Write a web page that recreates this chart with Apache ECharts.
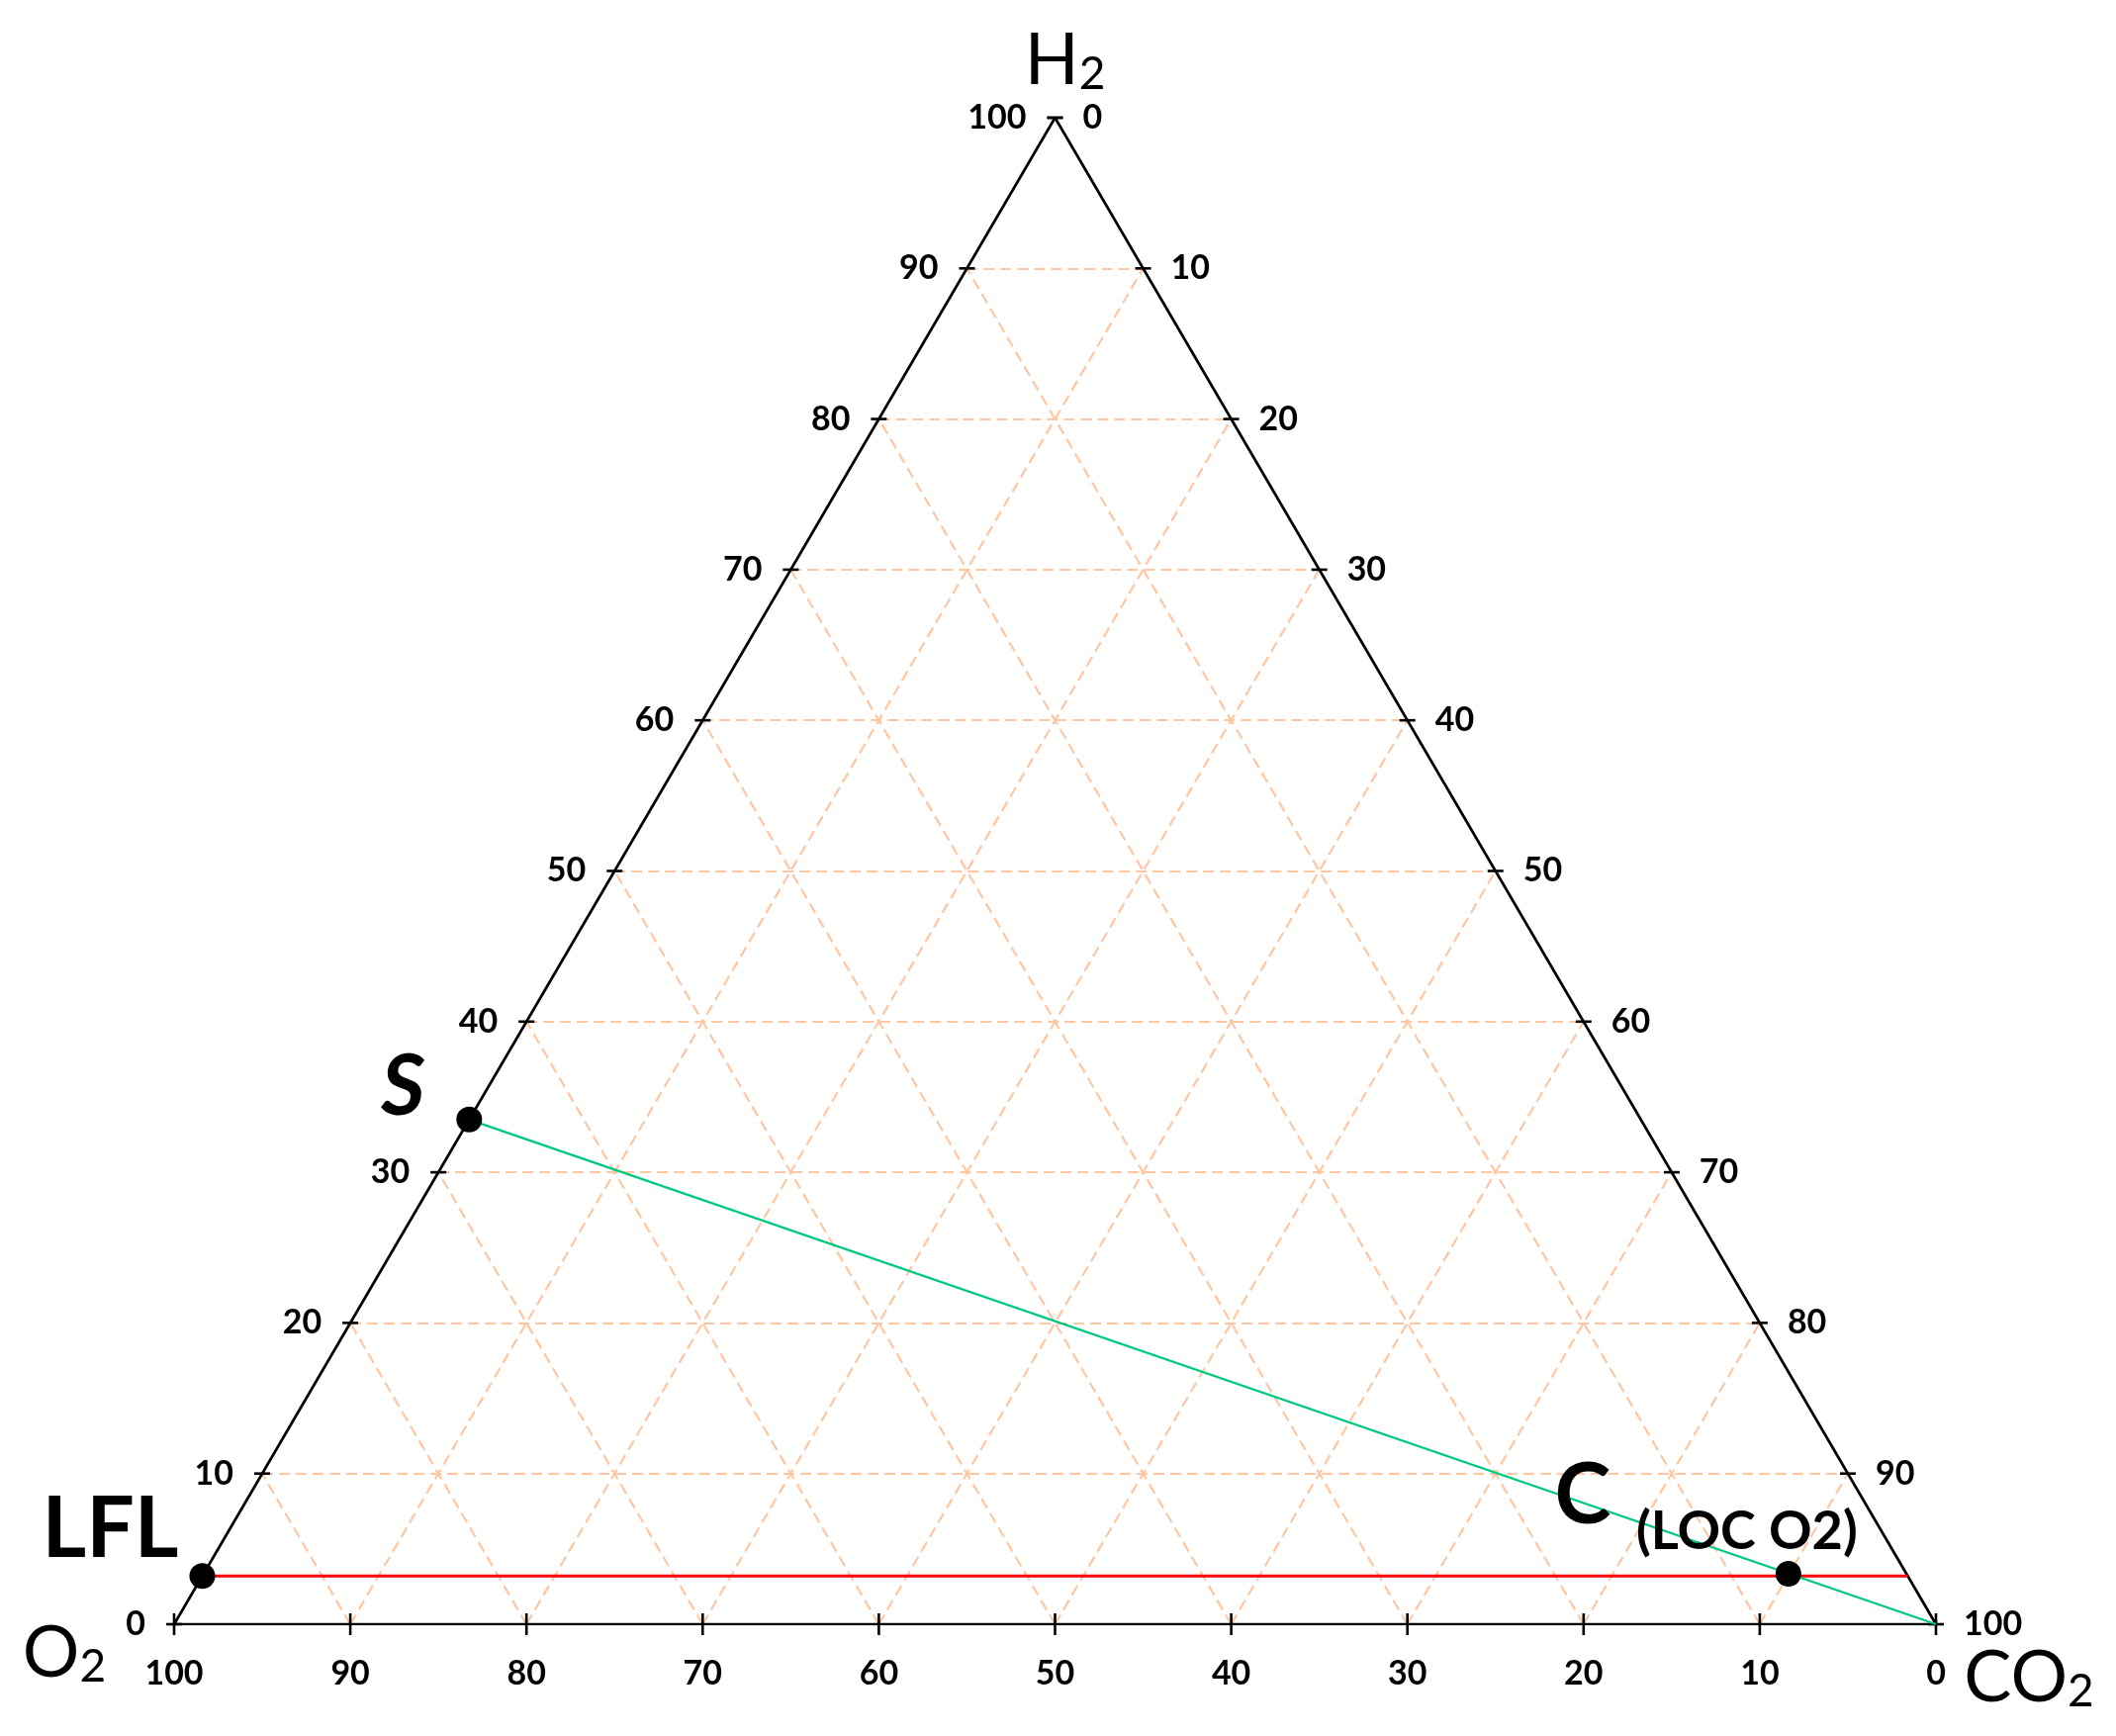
<!DOCTYPE html>
<html>
<head>
<meta charset="utf-8">
<script src="https://cdn.jsdelivr.net/npm/echarts@6/dist/echarts.min.js"></script>
<style>
  html, body { margin: 0; padding: 0; background: #fff; }
  #ternary { width: 2139px; height: 1755px; }
</style>
</head>
<body>
<div id="ternary"></div>
<script>
// tick values on each side (%)
var tickValues = [0, 10, 20, 30, 40, 50, 60, 70, 80, 90, 100];
var gridValues = [10, 20, 30, 40, 50, 60, 70, 80, 90];

// marked compositions, [O2, H2, CO2] in %
var pointNames = ['LFL', 'S', 'C'];
var pointO2 = [96.8, 66.5, 6.7];
var pointH2 = [3.2, 33.5, 3.35];
var pointCO2 = [0, 0, 89.95];

// red LFL line and green line S -> pure CO2
var lflLine = [[96.8, 3.2, 0], [0, 3.2, 96.8]];
var dilutionLine = [[66.5, 33.5, 0], [0, 0, 100]];

// corners [O2, H2, CO2]
var cornerNames = ['O2', 'H2', 'CO2'];
var corners = [[100, 0, 0], [0, 100, 0], [0, 0, 100]];

// ternary -> cartesian (x along base, y = H2)
function toXY(t) {
  return [t[2] + t[1] / 2, t[1]];
}

var FONT = 'Lato';
var chart = echarts.init(document.getElementById('ternary'));

// dashed grid
var gridSegs = [];
gridValues.forEach(function (v) {
  gridSegs.push({ coords: [toXY([100 - v, v, 0]), toXY([0, v, 100 - v])] });      // H2 const
  gridSegs.push({ coords: [toXY([100 - v, 0, v]), toXY([0, 100 - v, v])] });      // CO2 const
  gridSegs.push({ coords: [toXY([v, 0, 100 - v]), toXY([v, 100 - v, 0])] });      // O2 const
});

var tickLabel = { show: true, color: '#000', fontFamily: FONT, fontWeight: 'bold', fontSize: 34 };
var black = { color: '#000', opacity: 1 };

var cornerOffsets = { O2: [-111, 30], H2: [10, -57], CO2: [94, 55] };
var pointOffsets = { LFL: [-93, -47], S: [-67, -33], C: [-208, -79] };

chart.setOption({
  animation: false,
  backgroundColor: '#fff',
  grid: { left: 176, right: 182, top: 119, bottom: 113 },
  xAxis: { type: 'value', min: 0, max: 100, show: false },
  yAxis: { type: 'value', min: 0, max: 100, show: false },
  series: [
    {
      type: 'lines',
      coordinateSystem: 'cartesian2d',
      silent: true,
      lineStyle: { color: '#FFC6A2', width: 2.2, type: [11, 6], opacity: 1 },
      data: gridSegs,
      z: 1
    },
    {
      type: 'line',
      symbol: 'none',
      lineStyle: { color: '#000', width: 2.7 },
      data: [toXY(corners[0]), toXY(corners[1]), toXY(corners[2]), toXY(corners[0])],
      z: 3
    },
    // H2 side (left)
    {
      type: 'scatter',
      symbol: 'rect',
      symbolSize: [16, 2.6],
      itemStyle: black,
      label: Object.assign({ position: 'left', distance: 21, formatter: function (p) { return p.value[2]; } }, tickLabel),
      data: tickValues.map(function (v) { return toXY([100 - v, v, 0]).concat(v); }),
      z: 4
    },
    // CO2 side (right)
    {
      type: 'scatter',
      symbol: 'rect',
      symbolSize: [16, 2.6],
      itemStyle: black,
      label: Object.assign({ position: 'right', distance: 20, formatter: function (p) { return p.value[2]; } }, tickLabel),
      data: tickValues.map(function (v) { return toXY([0, 100 - v, v]).concat(v); }),
      z: 4
    },
    // O2 side (bottom)
    {
      type: 'scatter',
      symbol: 'rect',
      symbolSize: [2.6, 22],
      itemStyle: black,
      label: Object.assign({ position: 'bottom', distance: 22, formatter: function (p) { return p.value[2]; } }, tickLabel),
      data: tickValues.map(function (v) { return toXY([v, 0, 100 - v]).concat(v); }),
      z: 4
    },
    {
      type: 'line',
      symbol: 'none',
      lineStyle: { color: '#FF0000', width: 3.2 },
      data: lflLine.map(toXY),
      z: 5
    },
    {
      type: 'line',
      symbol: 'none',
      lineStyle: { color: '#00C97E', width: 2.3 },
      data: dilutionLine.map(toXY),
      z: 5
    },
    {
      type: 'scatter',
      symbol: 'circle',
      symbolSize: 26,
      itemStyle: black,
      label: {
        show: true,
        position: 'inside',
        color: '#000',
        fontFamily: FONT,
        fontWeight: 'bold',
        fontSize: 86,
        formatter: '{b}'
      },
      data: pointNames.map(function (n, i) {
        return {
          name: n,
          value: toXY([pointO2[i], pointH2[i], pointCO2[i]]),
          label: { offset: pointOffsets[n], fontStyle: n === 'S' ? 'italic' : 'normal' }
        };
      }),
      z: 6
    },
    {
      type: 'scatter',
      symbolSize: 0,
      itemStyle: black,
      label: {
        show: true,
        position: 'inside',
        offset: [-42, -42],
        color: '#000',
        fontFamily: FONT,
        fontWeight: 'bold',
        fontSize: 54,
        formatter: '(LOC O2)'
      },
      data: [toXY([pointO2[2], pointH2[2], pointCO2[2]])],
      z: 6
    },
    {
      type: 'scatter',
      symbolSize: 0,
      itemStyle: black,
      label: {
        show: true,
        position: 'inside',
        formatter: function (p) {
          return '{a|' + p.name.slice(0, -1) + '}{b|' + p.name.slice(-1) + '}';
        },
        rich: {
          a: { fontFamily: FONT, fontSize: 72, color: '#000', verticalAlign: 'bottom' },
          b: { fontFamily: FONT, fontSize: 46, color: '#000', verticalAlign: 'bottom' }
        }
      },
      data: cornerNames.map(function (n, i) {
        return { name: n, value: toXY(corners[i]), label: { offset: cornerOffsets[n] } };
      }),
      z: 6
    }
  ]
});
</script>
</body>
</html>
